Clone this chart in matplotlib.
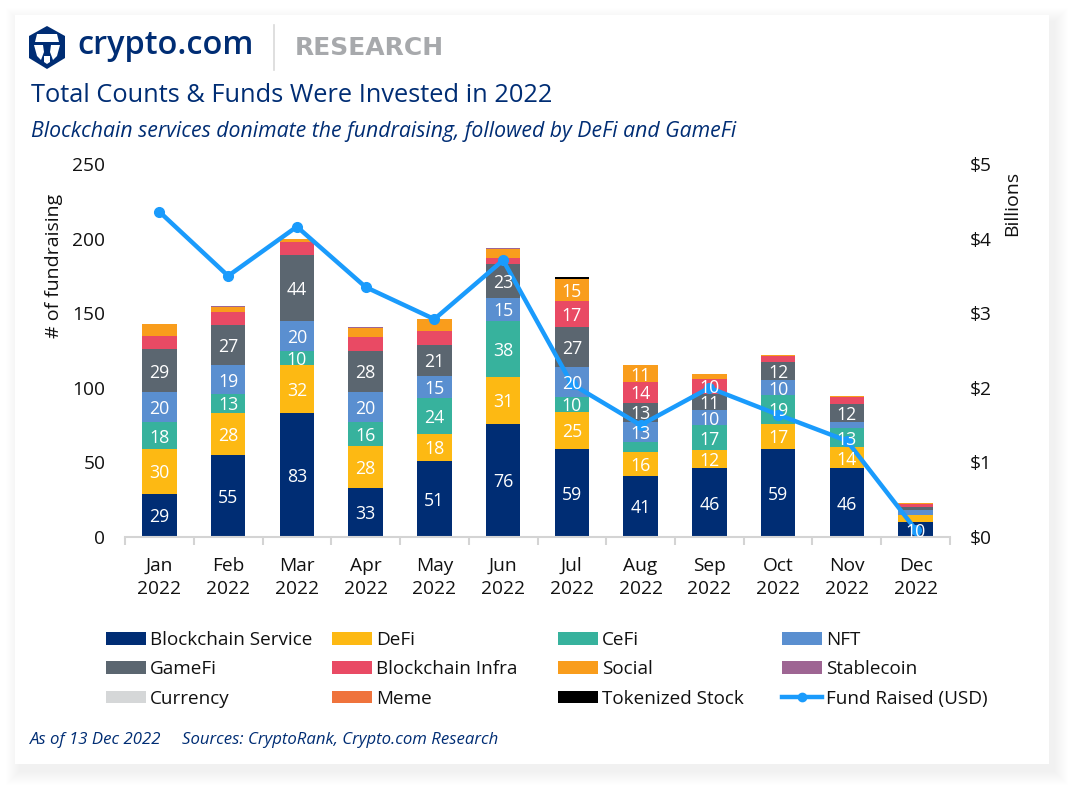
import matplotlib
matplotlib.use("Agg")
import matplotlib.pyplot as plt
from matplotlib.lines import Line2D
from matplotlib.patches import Patch, Polygon, Rectangle
import numpy as np

plt.rcParams['font.family'] = ['Open Sans', 'DejaVu Sans']

months = ["Jan\n2022", "Feb\n2022", "Mar\n2022", "Apr\n2022", "May\n2022", "Jun\n2022",
          "Jul\n2022", "Aug\n2022", "Sep\n2022", "Oct\n2022", "Nov\n2022", "Dec\n2022"]

blockchain_service = [29, 55, 83, 33, 51, 76, 59, 41, 46, 59, 46, 10]
defi = [30, 28, 32, 28, 18, 31, 25, 16, 12, 17, 14, 5]
cefi = [18, 13, 10, 16, 24, 38, 10, 7, 17, 19, 13, 0]
nft = [20, 19, 20, 20, 15, 15, 20, 13, 10, 10, 4, 3]
gamefi = [29, 27, 44, 28, 21, 23, 27, 13, 11, 12, 12, 2]
blockchain_infra = [9, 9, 9, 9, 9, 4, 17, 14, 10, 4, 5, 2]
social = [8, 3, 2, 6, 8, 6, 15, 11, 3, 1, 0.5, 1]
stablecoin = [0, 1, 0, 1, 0, 1, 0, 0, 0, 0, 0, 0]
currency = [0, 0, 0, 0, 0, 0, 0, 0, 0, 0, 0, 0]
meme = [0, 0, 0, 0, 0, 0, 0, 0, 0, 0, 0, 0]
tokenized_stock = [0, 0, 0, 0, 0, 0, 1, 0, 0, 0, 0, 0]
fund_raised = [4.36, 3.50, 4.16, 3.35, 2.92, 3.71, 2.05, 1.50, 2.00, 1.64, 1.29, 0.10]

series = [
    ("Blockchain Service", blockchain_service, "#002d74"),
    ("DeFi", defi, "#fdb913"),
    ("CeFi", cefi, "#37b29d"),
    ("NFT", nft, "#5a8fd0"),
    ("GameFi", gamefi, "#5b6670"),
    ("Blockchain Infra", blockchain_infra, "#e94a64"),
    ("Social", social, "#f99d1c"),
    ("Stablecoin", stablecoin, "#9e6593"),
    ("Currency", currency, "#d5d7d8"),
    ("Meme", meme, "#ef733c"),
    ("Tokenized Stock", tokenized_stock, "#000000"),
]

W, H = 1073, 788
navy = "#002d74"
line_blue = "#1a9bfc"

fig = plt.figure(figsize=(W / 100, H / 100), dpi=100, facecolor="white")

# card + shadow + logo, in pixel coords
bg = fig.add_axes([0, 0, 1, 1], zorder=0)
bg.set_xlim(0, W)
bg.set_ylim(H, 0)
bg.axis("off")
for grow in range(14, 0, -1):
    bg.add_patch(Rectangle((15 - grow + 5, 15 - grow + 7), 1034 + 2 * grow, 749 + 2 * grow,
                           fc="black", ec="none", alpha=0.005))
bg.add_patch(Rectangle((15, 15), 1034, 749, fc="white", ec="none"))

bg.add_patch(Polygon([(47, 26), (65, 36), (65, 58), (47, 69), (29, 58), (29, 36)], fc=navy, ec="none"))
bg.add_patch(Polygon([(37, 34), (57, 34), (59, 42), (35, 42)], fc="white", ec="none"))
bg.add_patch(Polygon([(34, 45), (43, 45), (44, 52), (41, 60), (37, 56)], fc="white", ec="none"))
bg.add_patch(Polygon([(60, 45), (51, 45), (50, 52), (53, 60), (57, 56)], fc="white", ec="none"))
bg.add_patch(Polygon([(44, 56), (50, 56), (50, 62), (47, 64), (44, 62)], fc="white", ec="none"))
bg.plot([274, 274], [25, 70], color="#d9d9d9", lw=1.2)

ax = fig.add_axes([125 / W, 1 - 537 / H, 825 / W, 373 / H], zorder=1)
ax.patch.set_alpha(0)
x = np.arange(len(months))
bottom = np.zeros(len(months))
mids = []
for name, values, color in series:
    values = np.array(values, dtype=float)
    ax.bar(x, values, 0.5, bottom=bottom, color=color, label=name)
    mids.append((values, bottom + values / 2))
    bottom += values

ax.set_xlim(-0.5, 11.5)
ax.set_ylim(0, 250)
ax.set_yticks([0, 50, 100, 150, 200, 250])
ax.set_xticks(x)
ax.set_xticklabels(months, fontsize=13.8, color="#111111", linespacing=1.36)
ax.set_xticks(np.arange(-0.5, 12, 1), minor=True)
ax.tick_params(axis="x", which="major", length=0, pad=14.5)
ax.tick_params(axis="x", which="minor", length=6, width=1.5, color="#d4d4d4")
ax.tick_params(axis="y", length=0, labelsize=13.8, pad=14.2, labelcolor="#111111")
for s in ["top", "left", "right"]:
    ax.spines[s].set_visible(False)
ax.spines["bottom"].set_color("#d4d4d4")
ax.spines["bottom"].set_linewidth(1.5)
ax.set_axisbelow(True)

ax2 = ax.twinx()
ax2.set_zorder(2)
ax2.patch.set_alpha(0)
ax2.plot(x, fund_raised, color=line_blue, lw=3.2, marker="o", ms=7, label="Fund Raised (USD)")
ax2.set_ylim(0, 5)
ax2.set_yticks([0, 1, 2, 3, 4, 5])
ax2.set_yticklabels(["$0", "$1", "$2", "$3", "$4", "$5"])
ax2.tick_params(axis="y", length=0, labelsize=13.8, pad=14.2, labelcolor="#111111")
for s in ax2.spines.values():
    s.set_visible(False)

# value labels sit above the line, so they go on the top axes
for values, centers in mids:
    for i, v in enumerate(values):
        if v >= 10:
            ax2.text(i, centers[i], f"{v:.0f}", transform=ax.transData, ha="center",
                     va="center_baseline", color="white", fontsize=12.8, zorder=5)

fig.text(54 / W, 1 - 266 / H, "# of fundraising", rotation=90, ha="center", va="center",
         fontsize=14, color="#111111")
fig.text(1012 / W, 1 - 203 / H, "Billions", rotation=90, ha="center", va="center",
         fontsize=14, color="#111111")

# legend: four separate columns so they line up with the reference
handles = [Patch(fc=c, ec="none", label=n) for n, _, c in series]
handles.append(Line2D([], [], color=line_blue, lw=3.2, marker="o", ms=6, label="Fund Raised (USD)"))
col_x = [106, 332, 558, 782]
for c in range(4):
    col = handles[c::4]
    fig.legend(handles=col, loc="upper left", bbox_to_anchor=(col_x[c] / W, 1 - 631 / H),
               frameon=False, fontsize=13.6, ncol=1, borderpad=0, borderaxespad=0,
               handlelength=2.1, handleheight=0.65, handletextpad=0.22, labelspacing=0.6,
               labelcolor="#111111")

fig.text(77 / W, 1 - 46 / H, "crypto.com", fontsize=23.4, fontweight="semibold", color=navy,
         ha="left", va="center")
fig.text(295 / W, 1 - 48 / H, "RESEARCH", fontsize=18, fontweight="bold", color="#a7a9ac",
         family="DejaVu Sans", ha="left", va="center")
fig.text(31 / W, 1 - 96 / H, "Total Counts & Funds Were Invested in 2022", fontsize=18.25, color=navy,
         ha="left", va="center")
fig.text(31 / W, 1 - 131 / H, "Blockchain services donimate the fundraising, followed by DeFi and GameFi",
         fontsize=15.3, style="italic", color=navy, ha="left", va="center")
fig.text(30 / W, 1 - 740 / H, "As of 13 Dec 2022", fontsize=12.1, style="italic", color=navy,
         ha="left", va="center")
fig.text(182 / W, 1 - 740 / H, "Sources: CryptoRank, Crypto.com Research", fontsize=12.1, style="italic",
         color=navy, ha="left", va="center")

fig.savefig("out.png", dpi=100)
